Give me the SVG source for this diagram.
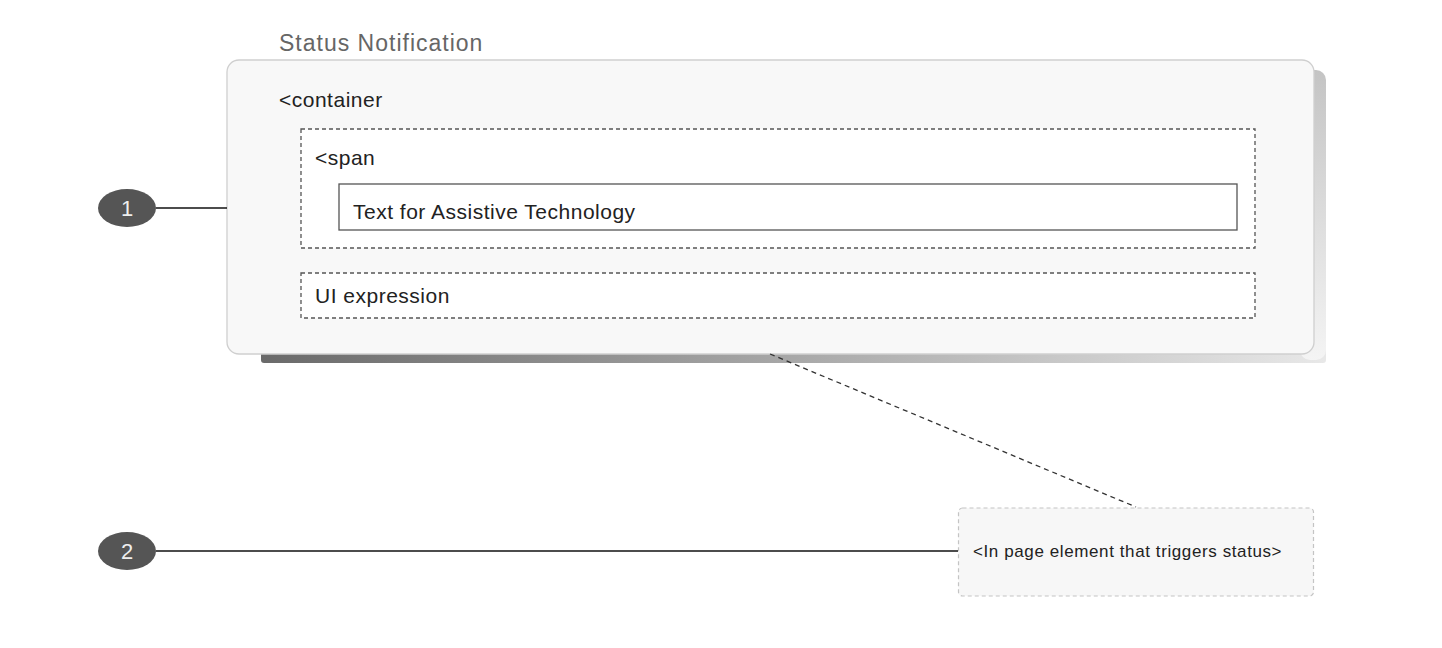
<svg xmlns="http://www.w3.org/2000/svg" width="1442" height="648" viewBox="0 0 1442 648">
<style>
text{font-family:"Liberation Sans",Arial,sans-serif;}
.lbl{font-size:21px;fill:#222;letter-spacing:0.5px;}
.dash{fill:#fff;stroke:#555;stroke-width:1.3;stroke-dasharray:4 3;}
.badge{fill:#555;}
.badgeText{font-size:22px;fill:#eee;text-anchor:middle;}
.lead{stroke:#111;stroke-width:1.3;fill:none;}
</style>
<defs>
<linearGradient id="shB" x1="0" y1="0" x2="1" y2="0">
<stop offset="0" stop-color="#6a6a6a"/>
<stop offset="0.5" stop-color="#a8a8a8"/>
<stop offset="1" stop-color="#e8e8e8"/>
</linearGradient>
<linearGradient id="shR" x1="0" y1="0" x2="0" y2="1">
<stop offset="0" stop-color="#c4c4c4"/>
<stop offset="1" stop-color="#f4f4f4"/>
</linearGradient>
</defs>
<text x="279" y="51" style="font-size:23px;fill:#666;letter-spacing:1px">Status Notification</text>
<g id="container">
<rect x="261" y="340" width="1065" height="23" rx="3" fill="url(#shB)"/>
<rect x="1300" y="70" width="26" height="290" rx="10" fill="url(#shR)"/>
<rect x="227" y="60" width="1087" height="294" rx="12" fill="#f8f8f8" stroke="#cfcfcf" stroke-width="1.3"/>
<text class="lbl" x="279" y="107">&lt;container</text>
</g>
<g id="span">
<rect class="dash" x="301" y="129" width="954" height="119"/>
<text class="lbl" x="315" y="165">&lt;span</text>
</g>
<g id="at-text">
<rect x="339" y="184" width="898" height="46" fill="#fff" stroke="#555" stroke-width="1.3"/>
<text class="lbl" x="353" y="219">Text for Assistive Technology</text>
</g>
<g id="ui-expression">
<rect class="dash" x="301" y="273" width="954" height="45"/>
<text class="lbl" x="315" y="303">UI expression</text>
</g>
<g id="trigger">
<rect x="958.5" y="508" width="355" height="88" rx="4" fill="#f7f7f7" stroke="#c4c4c4" stroke-width="1.2" stroke-dasharray="4 3"/>
<text x="973" y="557" style="font-size:17px;fill:#222;letter-spacing:0.6px">&lt;In page element that triggers status&gt;</text>
</g>
<g id="connectors">
<line class="lead" x1="156" y1="208" x2="227" y2="208"/>
<line class="lead" x1="156" y1="551" x2="958" y2="551"/>
<line x1="770" y1="354" x2="1136" y2="507" stroke="#333" stroke-width="1.3" stroke-dasharray="5 4"/>
</g>
<g id="badge1">
<ellipse class="badge" cx="127" cy="208" rx="29" ry="19"/>
<text class="badgeText" x="127" y="216">1</text>
</g>
<g id="badge2">
<ellipse class="badge" cx="127" cy="551" rx="29" ry="19"/>
<text class="badgeText" x="127" y="559">2</text>
</g>
</svg>
